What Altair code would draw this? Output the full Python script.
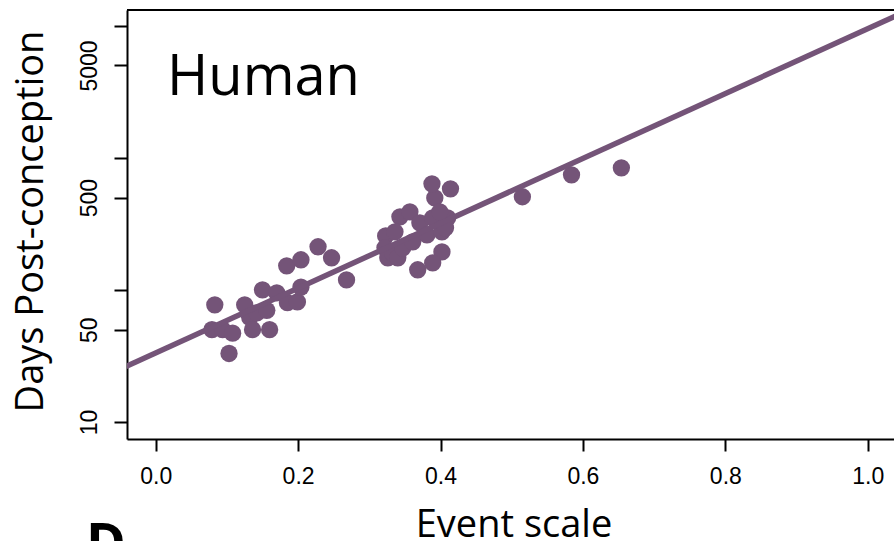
import altair as alt
import pandas as pd

# Data
event_scale = [0.079, 0.083, 0.103, 0.094, 0.108, 0.125, 0.132, 0.136, 0.160, 0.150,
               0.170, 0.142, 0.156, 0.185, 0.199, 0.204, 0.184, 0.204, 0.228, 0.247,
               0.268, 0.323, 0.322, 0.326, 0.333, 0.340, 0.343, 0.357, 0.347, 0.361,
               0.368, 0.371, 0.381, 0.389, 0.392, 0.388, 0.414, 0.402, 0.402, 0.389,
               0.410, 0.399, 0.336, 0.407, 0.515, 0.584, 0.654]
days_pc = [50, 77, 33, 50, 47, 77, 62, 50, 50, 100,
           95, 67, 70, 80, 81, 105, 152, 169, 212, 175,
           119, 256, 208, 175, 190, 175, 357, 390, 208, 231,
           142, 322, 261, 351, 497, 635, 582, 275, 194, 160,
           351, 390, 275, 295, 507, 743, 840]

fit_x = [-0.05, 1.05]
fit_y = [25.1, 12590]

x_ticks = [0.0, 0.2, 0.4, 0.6, 0.8, 1.0]
y_ticks = [10, 50, 100, 500, 1000, 5000, 10000]
y_labelled = [10, 50, 500, 5000]

PURPLE = "#745478"
W, H = 767, 429

pts = pd.DataFrame({"x": event_scale, "y": days_pc})
fit = pd.DataFrame({"x": fit_x, "y": fit_y})

xscale = alt.Scale(domain=[-0.0403, 1.0369], nice=False, zero=False)
yscale = alt.Scale(type="log", domain=[7.43, 13148], nice=False)

xaxis = alt.Axis(
    values=x_ticks, format=".1f", grid=False,
    domain=True, domainColor="black", domainWidth=2,
    ticks=True, tickColor="black", tickWidth=2, tickSize=12,
    labelFont="Liberation Sans", labelFontSize=23, labelColor="black",
    labelPadding=14, labelFlush=False,
    title="Event scale", titleFont="Open Sans", titleFontSize=38,
    titleFontWeight="normal", titleColor="black",
    titleBaseline="alphabetic", titleY=97, titleX=W / 2 + 3,
)
yaxis = alt.Axis(
    values=y_ticks, grid=False,
    labelExpr="indexof([10, 50, 500, 5000], datum.value) >= 0 ? format(datum.value, 'd') : ''",
    domain=True, domainColor="black", domainWidth=2,
    ticks=True, tickColor="black", tickWidth=2, tickSize=13,
    labelFont="Liberation Sans", labelFontSize=23, labelColor="black",
    labelAngle=270, labelAlign="center", labelBaseline="bottom",
    labelPadding=13, labelFlush=False, labelOverlap=False,
    title="Days Post-conception", titleFont="Open Sans", titleFontSize=38,
    titleFontWeight="normal", titleColor="black",
    titleAngle=270, titleAlign="center", titleBaseline="alphabetic",
    titleX=-85, titleY=211,
)

points = alt.Chart(pts).mark_circle(size=300, color=PURPLE, opacity=1).encode(
    x=alt.X("x:Q", scale=xscale, axis=xaxis),
    y=alt.Y("y:Q", scale=yscale, axis=yaxis),
)

line = alt.Chart(fit).mark_line(color=PURPLE, strokeWidth=5.5, clip=True).encode(
    x=alt.X("x:Q", scale=xscale),
    y=alt.Y("y:Q", scale=yscale),
)

top_border = alt.Chart(pd.DataFrame({"a": [0]})).mark_rule(color="black", strokeWidth=2).encode(
    x=alt.value(0), x2=alt.value(W), y=alt.value(0)
)

human = alt.Chart(pd.DataFrame({"t": ["Human"]})).mark_text(
    font="Open Sans", fontSize=56, color="black", align="left", baseline="alphabetic"
).encode(text="t:N", x=alt.value(40), y=alt.value(85))

panel_d = alt.Chart(pd.DataFrame({"t": ["D"]})).mark_text(
    font="Open Sans", fontSize=54, fontWeight="bold", color="black",
    align="left", baseline="alphabetic"
).encode(text="t:N", x=alt.value(-41), y=alt.value(552))

chart = alt.layer(points, line, top_border, human, panel_d).properties(
    width=W, height=H,
    autosize=alt.AutoSizeParams(type="none"),
    padding={"left": 127, "top": 10, "right": 0, "bottom": 102},
    background="white",
).configure_view(stroke=None)

chart.save("out.html", embed_options={"renderer": "svg", "actions": False})
